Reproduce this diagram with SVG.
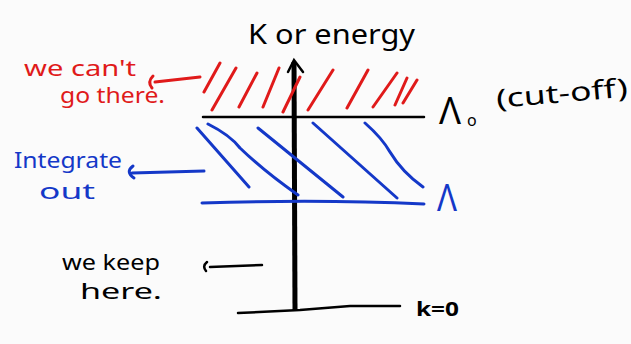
<svg xmlns="http://www.w3.org/2000/svg" width="631" height="344" viewBox="0 0 631 344">
<style>
  .red{stroke:#e01a1a;fill:none;stroke-linecap:round;stroke-width:3}
  .blue{stroke:#1438c8;fill:none;stroke-linecap:round;stroke-width:3}
  .blk{stroke:#000;fill:none;stroke-linecap:round;stroke-width:2.5}
  text{font-family:"Noto Sans","DejaVu Sans",sans-serif}
  .tr{fill:#e01a1a}
  .tb{fill:#1438c8}
  .tk{fill:#000}
</style>
<rect width="631" height="344" fill="#fbfbfb"/>

<g id="axis">
  <path d="M295 310 L294 62" stroke="#000" stroke-width="5" fill="none"/>
  <path d="M288 72 L294 60 L303 72" class="blk" stroke-width="3"/>
  <text x="248" y="44" class="tk" font-size="28" textLength="167" lengthAdjust="spacingAndGlyphs">K or energy</text>
</g>

<g id="forbidden">
  <path class="red" d="M220 63 L204 92 M236 68 L212 110 M257 73 L239 107 M279 68 L263 107 M300 77 L283 112 M333 70 L308 110 M368 70 L347 108 M397 73 L373 107 M407 78 L395 105 M417 80 L403 103"/>
  <text x="24" y="76" class="tr" font-size="22" textLength="112" lengthAdjust="spacingAndGlyphs">we can't</text>
  <text x="60" y="103" class="tr" font-size="22" textLength="105" lengthAdjust="spacingAndGlyphs">go there.</text>
</g>

<g id="cutoff">
  <path d="M203 117 L424 117" class="blk" stroke-width="2"/>
  <text x="439" y="124" class="tk" font-size="38" textLength="22" lengthAdjust="spacingAndGlyphs">Λ</text>
  <text x="467" y="126" class="tk" font-size="16">o</text>
  <text x="497" y="108" class="tk" font-size="26" textLength="132" lengthAdjust="spacingAndGlyphs" transform="rotate(-5 497 108)">(cut-off)</text>
</g>

<g id="integrate">
  <path class="blue" d="M197 128 L249 187 M208 124 Q230 135 240 148 Q265 172 298 195 M258 128 L343 197 M313 123 L397 198 M365 123 Q382 138 390 152 Q402 172 423 187"/>
  <path class="blue" d="M202 203 Q320 199 424 204" stroke-width="2.5"/>
  <text x="437" y="211" class="tb" font-size="38" textLength="20" lengthAdjust="spacingAndGlyphs">Λ</text>
  <text x="14" y="168" class="tb" font-size="22" textLength="108" lengthAdjust="spacingAndGlyphs">Integrate</text>
  <text x="39" y="199" class="tb" font-size="22" textLength="56" lengthAdjust="spacingAndGlyphs">out</text>
</g>

<g id="keep">
  <path d="M238 313 L300 310 L350 306 L400 306" class="blk" stroke-width="2.5"/>
  <text x="62" y="270" class="tk" font-size="22" textLength="98" lengthAdjust="spacingAndGlyphs">we keep</text>
  <text x="80" y="299" class="tk" font-size="22" textLength="82" lengthAdjust="spacingAndGlyphs">here.</text>
  <text x="416" y="316" class="tk" font-size="19" font-weight="bold" textLength="43" lengthAdjust="spacingAndGlyphs">k=0</text>
</g>

<g id="connectors">
  <path class="red" stroke-width="2.5" d="M200 77 L155 82 M153 76 Q147 82 152 88"/>
  <path class="blue" stroke-width="2.5" d="M204 171 L132 173 M133 166 Q125 172 134 178"/>
  <path class="blk" stroke-width="2" d="M262 265 L210 267 M207 262 Q202 266 206 271"/>
</g>
</svg>
